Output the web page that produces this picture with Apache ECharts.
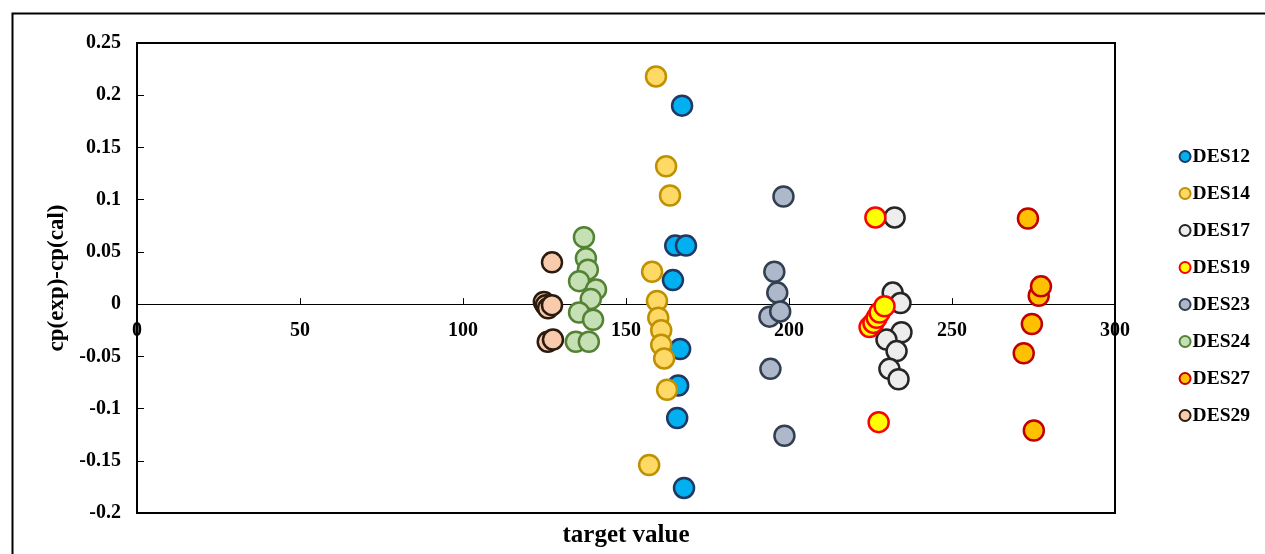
<!DOCTYPE html>
<html>
<head>
<meta charset="utf-8">
<script src="https://cdn.jsdelivr.net/npm/echarts@6/dist/echarts.min.js"></script>
<style>
html,body{margin:0;padding:0;background:#fff;}
#chart{width:1265px;height:554px;}
</style>
</head>
<body>
<div id="chart"></div>
<script>
// ---- data ----
const seriesNames = ['DES12','DES14','DES17','DES19','DES23','DES24','DES27','DES29'];
const xTicks = [0, 50, 100, 150, 200, 250, 300];
const yTicks = [-0.2, -0.15, -0.1, -0.05, 0, 0.05, 0.1, 0.15, 0.2, 0.25];

const DES12 = [[167.2,0.190],[165.1,0.056],[168.4,0.056],[164.4,0.023],[166.6,-0.043],[166.0,-0.078],[165.7,-0.109],[167.8,-0.176]];
const DES14 = [[159.2,0.218],[162.3,0.132],[163.5,0.104],[158.0,0.031],[159.5,0.003],[159.9,-0.013],[160.8,-0.025],[160.8,-0.039],[161.7,-0.052],[162.6,-0.082],[157.1,-0.154]];
const DES17 = [[232.4,0.083],[231.8,0.011],[234.2,0.001],[234.5,-0.027],[229.9,-0.034],[233.0,-0.045],[230.8,-0.062],[233.6,-0.072]];
const DES19 = [[226.5,0.083],[227.5,-0.113],[224.7,-0.022],[225.9,-0.018],[226.9,-0.013],[227.8,-0.008],[229.3,-0.002]];
const DES23 = [[198.3,0.103],[195.5,0.031],[196.4,0.011],[194.0,-0.012],[197.3,-0.007],[194.3,-0.062],[198.6,-0.126]];
const DES24 = [[137.1,0.064],[137.7,0.044],[138.3,0.033],[135.6,0.022],[140.8,0.014],[139.2,0.005],[135.6,-0.008],[139.9,-0.015],[134.6,-0.036],[138.6,-0.036]];
const DES27 = [[273.3,0.082],[276.6,0.008],[277.3,0.017],[274.5,-0.019],[272.0,-0.047],[275.1,-0.121]];
const DES29 = [[127.3,0.040],[124.8,0.002],[125.4,-0.001],[126.1,-0.004],[127.3,-0.001],[126.0,-0.036],[127.6,-0.034]];

const seriesData = [DES12, DES14, DES17, DES19, DES23, DES24, DES27, DES29];
const fillColors   = ['#00B0F0','#FFD966','#EDEDED','#FFFF00','#ADB9CA','#C5E0B4','#FFC000','#F8CBAD'];
const borderColors = ['#1F3864','#BF9000','#262626','#FF0000','#333F50','#548235','#C00000','#2B1A0E'];

const FONT = '"Liberation Serif", "Times New Roman", serif';

const chart = echarts.init(document.getElementById('chart'), null, {renderer:'canvas'});
const option = {
  animation: false,
  backgroundColor: '#ffffff',
  graphic: [{
    type: 'rect', left: 10, top: 11, z: -1,
    shape: {width: 1400, height: 700},
    style: {fill: 'none', stroke: '#000', lineWidth: 2}
  }],
  grid: {
    left: 137, right: 150, top: 43, bottom: 41,
    containLabel: false, outerBoundsMode: 'none',
    show: true, borderColor: '#000', borderWidth: 2, backgroundColor: 'transparent'
  },
  legend: {
    orient: 'vertical',
    right: 10, top: 141,
    itemWidth: 11, itemHeight: 11, itemGap: 16,
    icon: 'circle',
    textStyle: {fontFamily: FONT, fontWeight: 'bold', fontSize: 19.5, color: '#000', padding: [0,0,0,-3], lineHeight: 21},
    data: seriesNames
  },
  xAxis: {
    type: 'value', min: xTicks[0], max: xTicks[xTicks.length-1], interval: 50,
    name: 'target value', nameLocation: 'middle', nameGap: 10,
    nameTextStyle: {fontFamily: FONT, fontWeight: 'bold', fontSize: 25, color: '#000'},
    axisLine: {onZero: true, lineStyle: {color: '#000', width: 1}},
    axisTick: {inside: true, length: 6, lineStyle: {color: '#000'}},
    axisLabel: {fontFamily: FONT, fontWeight: 'bold', fontSize: 20, color: '#000', margin: -192},
    splitLine: {show: false}
  },
  yAxis: {
    type: 'value', min: yTicks[0], max: yTicks[yTicks.length-1], interval: 0.05,
    name: 'cp(exp)-cp(cal)', nameLocation: 'middle', nameGap: 67, nameRotate: 90,
    nameTextStyle: {fontFamily: FONT, fontWeight: 'bold', fontSize: 23, color: '#000'},
    axisLine: {show: true, onZero: false, lineStyle: {color: '#000', width: 2}},
    axisTick: {inside: true, length: 7, lineStyle: {color: '#000'}},
    axisLabel: {fontFamily: FONT, fontWeight: 'bold', fontSize: 20, color: '#000', margin: 16,
      formatter: v => String(Math.round(v*100)/100)},
    splitLine: {show: false}
  },
  series: seriesNames.map((n, i) => ({
    name: n, type: 'scatter', data: seriesData[i],
    symbol: 'circle', symbolSize: 20, z: 5,
    itemStyle: {color: fillColors[i], borderColor: borderColors[i], borderWidth: 2.5, opacity: 1}
  }))
};
chart.setOption(option);
</script>
</body>
</html>
